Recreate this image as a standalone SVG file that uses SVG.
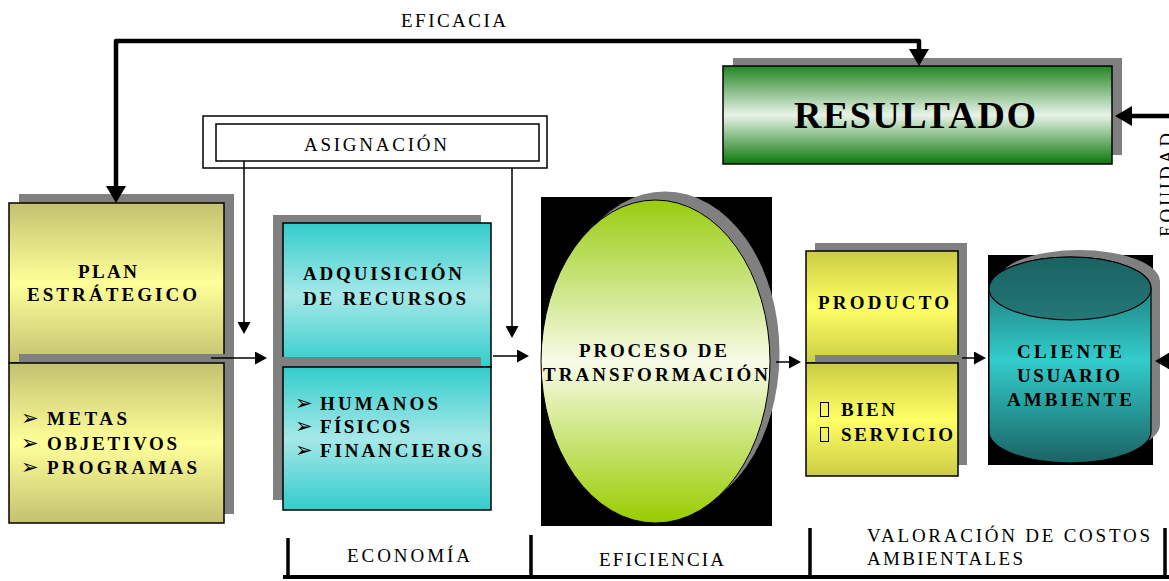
<svg xmlns="http://www.w3.org/2000/svg" width="1169" height="581" viewBox="0 0 1169 581">
<defs>
  <linearGradient id="gPlan" x1="0" y1="0" x2="0" y2="1">
    <stop offset="0" stop-color="#c2c270"/>
    <stop offset="0.5" stop-color="#ffff99"/>
    <stop offset="1" stop-color="#c2c270"/>
  </linearGradient>
  <linearGradient id="gAdq" x1="0" y1="0" x2="0" y2="1">
    <stop offset="0" stop-color="#33cccc"/>
    <stop offset="0.5" stop-color="#a6e8e8"/>
    <stop offset="1" stop-color="#33cccc"/>
  </linearGradient>
  <linearGradient id="gProd" x1="0" y1="0" x2="0" y2="1">
    <stop offset="0" stop-color="#cccc44"/>
    <stop offset="0.5" stop-color="#ffff66"/>
    <stop offset="1" stop-color="#cccc44"/>
  </linearGradient>
  <linearGradient id="gRes" x1="0" y1="0" x2="0" y2="1">
    <stop offset="0" stop-color="#238523"/>
    <stop offset="0.5" stop-color="#e8f3e8"/>
    <stop offset="1" stop-color="#0c780c"/>
  </linearGradient>
  <linearGradient id="gProc" x1="0" y1="0" x2="0" y2="1">
    <stop offset="0" stop-color="#99cc11"/>
    <stop offset="0.5" stop-color="#f8fbe8"/>
    <stop offset="1" stop-color="#99cc00"/>
  </linearGradient>
  <linearGradient id="gCyl" x1="0" y1="0" x2="0" y2="1">
    <stop offset="0" stop-color="#1a6363"/>
    <stop offset="0.5" stop-color="#33cccc"/>
    <stop offset="1" stop-color="#1a6363"/>
  </linearGradient>
  <linearGradient id="gTop" x1="0" y1="0" x2="0" y2="1">
    <stop offset="0" stop-color="#1a6262"/>
    <stop offset="1" stop-color="#247878"/>
  </linearGradient>
  <marker id="ahT" markerUnits="userSpaceOnUse" markerWidth="18" markerHeight="20" refX="1" refY="10" orient="auto-start-reverse">
    <path d="M0,0 L17,10 L0,20 Z" fill="#000"/>
  </marker>
  <marker id="ah" markerUnits="userSpaceOnUse" markerWidth="13" markerHeight="13" refX="1" refY="6.5" orient="auto">
    <path d="M0,0 L12,6.5 L0,13 Z" fill="#000"/>
  </marker>
</defs>
<style>
  .t { font-family: "Liberation Serif", "DejaVu Serif", serif; font-size: 19px; fill: #000; }
  .b { font-weight: bold; }
  .bul { font-family: "DejaVu Sans", sans-serif; font-size: 21px; fill: #000; }
  .sh { fill: #808080; }
  .bx { stroke: #000; stroke-width: 1.5; }
  .thick { stroke: #000; stroke-width: 4.5; fill: none; stroke-linejoin: round; }
  .thin { stroke: #000; stroke-width: 1.5; fill: none; }
</style>
<rect x="0" y="0" width="1169" height="581" fill="#fff"/>

<g id="asignacion">
  <rect x="203" y="116" width="344" height="52" fill="#fff" class="bx"/>
  <rect x="216" y="124" width="323" height="37" fill="#fff" class="bx"/>
  <text class="t" x="304" y="151" textLength="143">ASIGNACIÓN</text>
</g>

<g id="plan">
  <rect class="sh" x="19" y="194" width="215" height="160"/>
  <rect class="bx" x="9" y="203" width="215" height="160" fill="url(#gPlan)"/>
  <rect class="sh" x="19" y="354" width="215" height="160"/>
  <rect class="bx" x="9" y="363" width="215" height="160" fill="url(#gPlan)"/>
  <text class="t b" x="78" y="278" textLength="59">PLAN</text>
  <text class="t b" x="27" y="301" textLength="170">ESTRÁTEGICO</text>
  <text class="bul" x="21" y="425">➢</text>
  <text class="bul" x="21" y="450">➢</text>
  <text class="bul" x="21" y="474">➢</text>
  <text class="t b" x="47" y="425" textLength="80">METAS</text>
  <text class="t b" x="47" y="450" textLength="130">OBJETIVOS</text>
  <text class="t b" x="47" y="474" textLength="150">PROGRAMAS</text>
</g>

<g id="adquisicion">
  <rect class="sh" x="273" y="215" width="208" height="144"/>
  <rect class="bx" x="283" y="223" width="208" height="144" fill="url(#gAdq)"/>
  <rect class="sh" x="273" y="357" width="208" height="143"/>
  <rect class="bx" x="283" y="367" width="208" height="143" fill="url(#gAdq)"/>
  <text class="t b" x="303" y="280" textLength="159">ADQUISICIÓN</text>
  <text class="t b" x="303" y="305" textLength="163">DE RECURSOS</text>
  <text class="bul" x="295" y="410">➢</text>
  <text class="bul" x="295" y="433">➢</text>
  <text class="bul" x="295" y="457">➢</text>
  <text class="t b" x="320" y="410" textLength="118">HUMANOS</text>
  <text class="t b" x="320" y="433" textLength="90">FÍSICOS</text>
  <text class="t b" x="320" y="457" textLength="162">FINANCIEROS</text>
</g>

<g id="proceso">
  <rect x="541" y="197" width="231" height="329" fill="#000"/>
  <ellipse class="sh" cx="665" cy="353" rx="114.5" ry="161.5"/>
  <ellipse cx="655.5" cy="361.5" rx="114.5" ry="161.5" fill="url(#gProc)" stroke="#000" stroke-width="1"/>
  <text class="t b" x="579" y="357" textLength="148">PROCESO DE</text>
  <text class="t b" x="543" y="381" textLength="225">TRANSFORMACIÓN</text>
</g>

<g id="producto">
  <rect class="sh" x="815" y="243" width="152" height="112"/>
  <rect class="bx" x="806" y="251" width="152" height="112" fill="url(#gProd)"/>
  <rect class="sh" x="815" y="355" width="152" height="110"/>
  <rect class="bx" x="806" y="363" width="152" height="113" fill="url(#gProd)"/>
  <text class="t b" x="818" y="309" textLength="131">PRODUCTO</text>
  <rect x="820.5" y="402.5" width="8" height="14" fill="none" stroke="#000" stroke-width="1"/>
  <rect x="820.5" y="427.5" width="8" height="14" fill="none" stroke="#000" stroke-width="1"/>
  <text class="t b" x="841" y="416" textLength="54">BIEN</text>
  <text class="t b" x="841" y="441" textLength="112">SERVICIO</text>
</g>

<g id="cliente">
  <rect x="988" y="255" width="165" height="210" fill="#000"/>
  <path class="sh" d="M998,281.5 L998,424.5 A81,31.5 0 0 0 1160,424.5 L1160,281.5 A81,31.5 0 0 0 998,281.5 Z"/>
  <path d="M989,288.5 L989,431.5 A81,31.5 0 0 0 1151,431.5 L1151,288.5 A81,31.5 0 0 0 989,288.5 Z" fill="url(#gCyl)" stroke="#000" stroke-width="1.2"/>
  <ellipse cx="1070" cy="288.5" rx="81" ry="31.5" fill="url(#gTop)" stroke="#000" stroke-width="1.2"/>
  <text class="t b" x="1017" y="358" textLength="105">CLIENTE</text>
  <text class="t b" x="1017" y="382" textLength="103">USUARIO</text>
  <text class="t b" x="1007" y="406" textLength="125">AMBIENTE</text>
</g>

<g id="resultado">
  <rect class="sh" x="733" y="58" width="389" height="97"/>
  <rect class="bx" x="723" y="66" width="389" height="98" fill="url(#gRes)"/>
  <text class="t b" x="794" y="128" style="font-size:38px" textLength="242">RESULTADO</text>
</g>

<g id="connectors">
  <path class="thick" d="M919,50 L919,41 L116,41 L116,187" marker-start="url(#ahT)" marker-end="url(#ahT)"/>
  <path class="thick" d="M1180,116 L1131,116" marker-end="url(#ahT)"/>
  <path class="thick" d="M1180,361 L1171,361" marker-end="url(#ahT)"/>
  <path class="thin" d="M211,358 L256,358" marker-end="url(#ah)"/>
  <path class="thin" d="M493,356 L518,356" marker-end="url(#ah)"/>
  <path class="thin" d="M244,161 L244,323" marker-end="url(#ah)"/>
  <path class="thin" d="M512,168 L512,327" marker-end="url(#ah)"/>
  <path class="thin" d="M776,362 L790,362" marker-end="url(#ah)"/>
  <path class="thin" d="M962,358 L975,358" marker-end="url(#ah)"/>
</g>

<g id="labels">
  <text class="t" x="401" y="27" textLength="105">EFICACIA</text>
  <text class="t" transform="translate(1173,237) rotate(-90)" x="0" y="0" textLength="104">EQUIDAD</text>
</g>

<g id="escala">
  <path d="M283,577 L1169,577" stroke="#000" stroke-width="4" fill="none"/>
  <path d="M288,538 L288,577 M531,535 L531,577 M810,528 L810,577 M1165,528 L1165,577" stroke="#000" stroke-width="3.5" fill="none"/>
  <text class="t" x="347" y="562" textLength="123">ECONOMÍA</text>
  <text class="t" x="599" y="566" textLength="125">EFICIENCIA</text>
  <text class="t" x="867" y="542" textLength="283">VALORACIÓN DE COSTOS</text>
  <text class="t" x="867" y="565" textLength="156">AMBIENTALES</text>
</g>
</svg>
